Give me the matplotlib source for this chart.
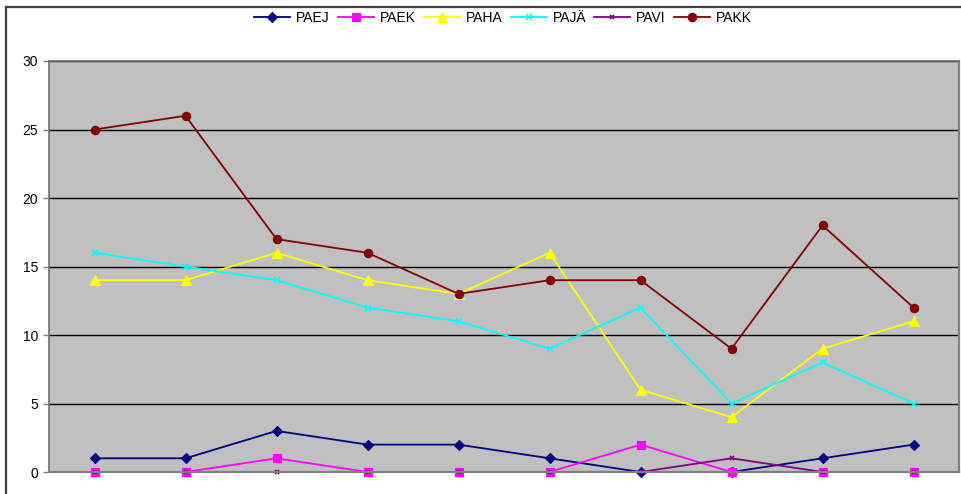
import matplotlib
matplotlib.use("Agg")
import matplotlib.pyplot as plt
from matplotlib.lines import Line2D

plt.rcParams['font.family'] = ['Liberation Sans', 'DejaVu Sans']

categories = list(range(1, 11))
paej = [1, 1, 3, 2, 2, 1, 0, 0, 1, 2]
paek = [0, 0, 1, 0, 0, 0, 2, 0, 0, 0]
paha = [14, 14, 16, 14, 13, 16, 6, 4, 9, 11]
paja = [16, 15, 14, 12, 11, 9, 12, 5, 8, 5]
pavi = [0, 0, 0, 0, 0, 0, 0, 1, 0, 0]
pakk = [25, 26, 17, 16, 13, 14, 14, 9, 18, 12]
y_ticks = [0, 5, 10, 15, 20, 25, 30]

series = [
    ("PAEJ", paej, "#000080", "D", 5.5),
    ("PAEK", paek, "#FF00FF", "s", 6),
    ("PAHA", paha, "#FFFF00", "^", 7),
    ("PAJÄ", paja, "#00FFFF", "x", 4),
    ("PAVI", pavi, "#800080", "x", 3.5),
    ("PAKK", pakk, "#800000", "o", 6),
]

W, H = 962, 494
fig = plt.figure(figsize=(W / 100, H / 100), dpi=100)
fig.patch.set_facecolor("white")

# outer chart frame (top and left edges visible)
fig.add_artist(Line2D([6 / W, 1.0], [1 - 7 / H, 1 - 7 / H], color="#404040", lw=1.6, transform=fig.transFigure))
fig.add_artist(Line2D([6 / W, 6 / W], [1 - 7 / H, 0.0], color="#404040", lw=1.6, transform=fig.transFigure))

left, right, top, bottom = 49, 959, 61, 472
ax = fig.add_axes([left / W, 1 - bottom / H, (right - left) / W, (bottom - top) / H])
ax.set_facecolor("#C0C0C0")

x = list(range(len(categories)))
for name, vals, color, marker, ms in series:
    mew = 1.2 if marker == "x" else 0.8
    ax.plot(x, vals, color=color, lw=1.3, marker=marker, markersize=ms,
            markerfacecolor=color, markeredgecolor=color, markeredgewidth=mew,
            label=name, clip_on=False)

ax.set_xlim(-0.5, len(categories) - 0.5)
ax.set_ylim(0, 30)
ax.set_yticks(y_ticks)
ax.set_xticks([])
ax.yaxis.grid(True, color="black", lw=1.0)
ax.set_axisbelow(True)
ax.tick_params(axis="y", length=4, width=1, color="#808080", labelsize=10, pad=4)

for side in ["left", "top"]:
    ax.spines[side].set_color("#707070")
    ax.spines[side].set_linewidth(1.2)
for side in ["right", "bottom"]:
    ax.spines[side].set_color("#808080")
    ax.spines[side].set_linewidth(1.6)

fig.legend(loc="center", bbox_to_anchor=(503 / W, 1 - 18 / H), ncol=6, frameon=False,
           fontsize=10, handlelength=2.6, columnspacing=0.6, handletextpad=0.4)

fig.savefig("out.png", dpi=100)
